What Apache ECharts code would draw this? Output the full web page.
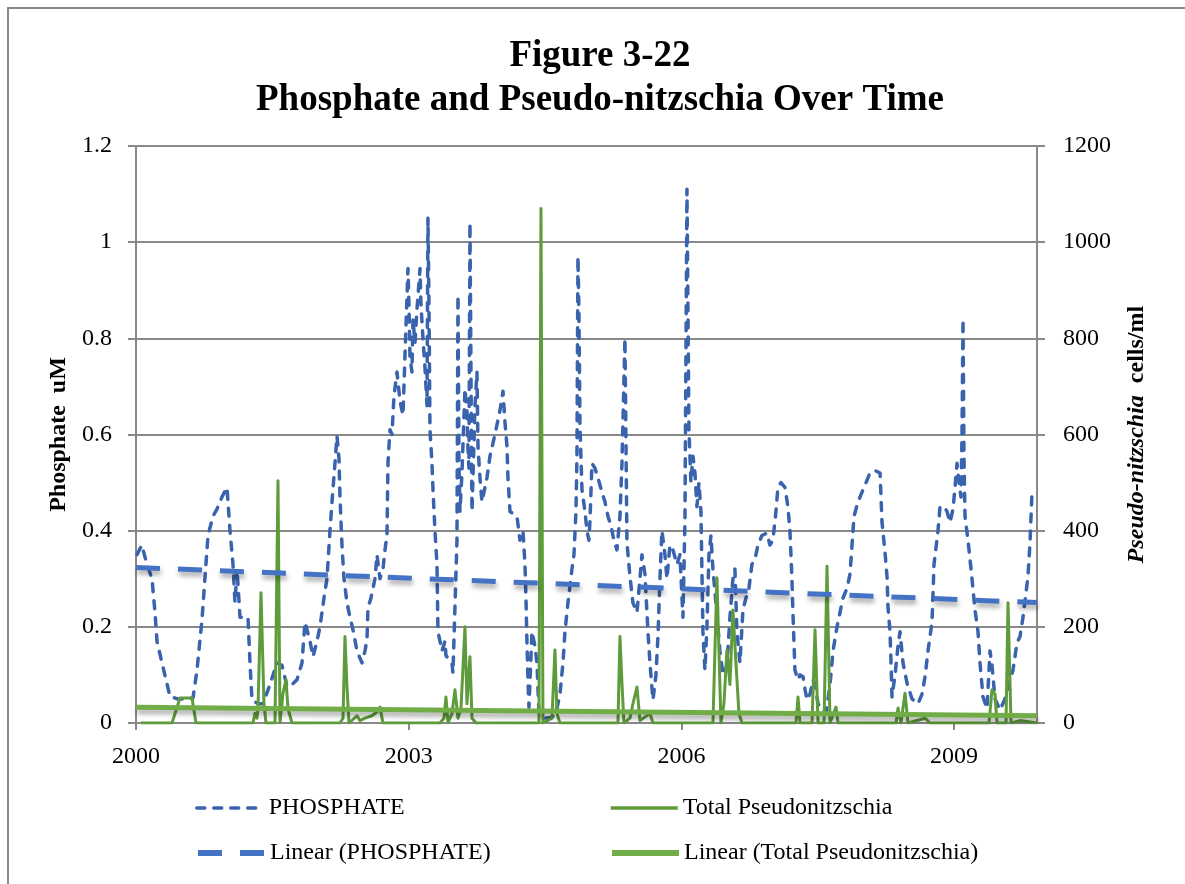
<!DOCTYPE html>
<html>
<head>
<meta charset="utf-8">
<script src="https://cdn.jsdelivr.net/npm/echarts@6/dist/echarts.min.js"></script>
<style>
  html, body { margin: 0; padding: 0; background: #fff; }
  #main { width: 1185px; height: 884px; }
</style>
</head>
<body>
<div id="main"></div>
<script>
// sample dates as decimal years
const phosYears = [
  2000.011, 2000.063, 2000.121, 2000.176, 2000.209, 2000.231, 2000.286, 2000.374, 2000.462, 2000.550,
  2000.627, 2000.671, 2000.726, 2000.792, 2000.847, 2000.891, 2000.946, 2001.001, 2001.034, 2001.067,
  2001.089, 2001.111, 2001.144, 2001.232, 2001.254, 2001.276, 2001.342, 2001.397, 2001.474, 2001.551,
  2001.606, 2001.661, 2001.716, 2001.771, 2001.826, 2001.859, 2001.914, 2001.947, 2001.991, 2002.024,
  2002.068, 2002.101, 2002.134, 2002.156, 2002.189, 2002.211, 2002.233, 2002.244, 2002.266, 2002.288,
  2002.321, 2002.354, 2002.387, 2002.431, 2002.486, 2002.519, 2002.541, 2002.552, 2002.585, 2002.607,
  2002.629, 2002.651, 2002.684, 2002.717, 2002.739, 2002.761, 2002.772, 2002.794, 2002.816, 2002.838,
  2002.871, 2002.904, 2002.937, 2002.959, 2002.992, 2003.003, 2003.014, 2003.036, 2003.047, 2003.069,
  2003.091, 2003.124, 2003.135, 2003.157, 2003.179, 2003.201, 2003.212, 2003.223, 2003.234, 2003.256,
  2003.267, 2003.289, 2003.311, 2003.322, 2003.366, 2003.399, 2003.410, 2003.476, 2003.487, 2003.531,
  2003.542, 2003.553, 2003.564, 2003.586, 2003.619, 2003.641, 2003.652, 2003.663, 2003.674, 2003.685,
  2003.696, 2003.707, 2003.729, 2003.751, 2003.762, 2003.784, 2003.806, 2003.861, 2003.894, 2003.949,
  2004.004, 2004.037, 2004.059, 2004.081, 2004.092, 2004.114, 2004.191, 2004.224, 2004.257, 2004.279,
  2004.290, 2004.301, 2004.312, 2004.323, 2004.356, 2004.389, 2004.411, 2004.433, 2004.499, 2004.576,
  2004.620, 2004.664, 2004.697, 2004.719, 2004.752, 2004.796, 2004.818, 2004.840, 2004.851, 2004.862,
  2004.873, 2004.884, 2004.906, 2004.939, 2004.961, 2004.983, 2004.994, 2005.016, 2005.049, 2005.082,
  2005.126, 2005.159, 2005.192, 2005.225, 2005.258, 2005.291, 2005.324, 2005.346, 2005.379, 2005.401,
  2005.434, 2005.467, 2005.511, 2005.544, 2005.566, 2005.599, 2005.632, 2005.654, 2005.687, 2005.720,
  2005.742, 2005.764, 2005.786, 2005.819, 2005.841, 2005.874, 2005.907, 2005.951, 2005.984, 2006.017,
  2006.039, 2006.061, 2006.083, 2006.105, 2006.127, 2006.149, 2006.171, 2006.193, 2006.215, 2006.237,
  2006.259, 2006.281, 2006.303, 2006.325, 2006.347, 2006.380, 2006.424, 2006.457, 2006.501, 2006.534,
  2006.567, 2006.589, 2006.611, 2006.644, 2006.677, 2006.710, 2006.743, 2006.776, 2006.809, 2006.842,
  2006.886, 2006.941, 2006.974, 2007.007, 2007.040, 2007.062, 2007.095, 2007.139, 2007.172, 2007.194,
  2007.216, 2007.227, 2007.249, 2007.283, 2007.305, 2007.338, 2007.360, 2007.382, 2007.415, 2007.448,
  2007.470, 2007.503, 2007.547, 2007.591, 2007.635, 2007.668, 2007.712, 2007.745, 2007.778, 2007.822,
  2007.855, 2007.877, 2007.899, 2007.943, 2007.987, 2008.031, 2008.075, 2008.130, 2008.185, 2008.196,
  2008.207, 2008.240, 2008.262, 2008.273, 2008.295, 2008.306, 2008.317, 2008.350, 2008.383, 2008.405,
  2008.438, 2008.482, 2008.537, 2008.603, 2008.647, 2008.680, 2008.713, 2008.757, 2008.779, 2008.823,
  2008.845, 2008.889, 2008.922, 2008.955, 2008.988, 2009.010, 2009.032, 2009.054, 2009.076, 2009.087,
  2009.098, 2009.109, 2009.120, 2009.153, 2009.175, 2009.197, 2009.230, 2009.263, 2009.285, 2009.318,
  2009.362, 2009.395, 2009.417, 2009.450, 2009.505, 2009.560, 2009.615, 2009.648, 2009.692, 2009.725,
  2009.758, 2009.813, 2009.835, 2009.857
]
const phosValues = [
  0.35, 0.37, 0.33, 0.30, 0.23, 0.17, 0.125, 0.055, 0.05, 0.05,
  0.052, 0.11, 0.215, 0.39, 0.43, 0.445, 0.47, 0.49, 0.40, 0.33,
  0.25, 0.32, 0.22, 0.22, 0.125, 0.048, 0.04, 0.04, 0.08, 0.125,
  0.12, 0.076, 0.08, 0.09, 0.125, 0.21, 0.17, 0.138, 0.17, 0.20,
  0.26, 0.30, 0.40, 0.46, 0.54, 0.597, 0.55, 0.47, 0.37, 0.30,
  0.25, 0.22, 0.194, 0.15, 0.125, 0.15, 0.173, 0.24, 0.26, 0.26,
  0.30, 0.35, 0.30, 0.32, 0.36, 0.39, 0.54, 0.61, 0.60, 0.68,
  0.73, 0.67, 0.64, 0.764, 0.945, 0.87, 0.76, 0.73, 0.84, 0.79,
  0.86, 0.945, 0.87, 0.80, 0.74, 0.66, 1.05, 0.87, 0.61, 0.54,
  0.486, 0.40, 0.33, 0.19, 0.15, 0.17, 0.14, 0.125, 0.104, 0.38,
  0.89, 0.54, 0.44, 0.52, 0.695, 0.647, 0.57, 0.53, 1.04, 0.73,
  0.44, 0.51, 0.66, 0.73, 0.576, 0.51, 0.46, 0.51, 0.555, 0.60,
  0.65, 0.69, 0.626, 0.576, 0.51, 0.44, 0.43, 0.38, 0.40, 0.33,
  0.26, 0.167, 0.09, 0.033, 0.19, 0.16, 0.125, 0.02, 0.01, 0.012,
  0.02, 0.06, 0.125, 0.19, 0.25, 0.32, 0.35, 0.44, 0.555, 0.97,
  0.85, 0.62, 0.486, 0.44, 0.40, 0.38, 0.42, 0.54, 0.53, 0.51,
  0.48, 0.46, 0.43, 0.41, 0.38, 0.36, 0.43, 0.54, 0.80, 0.375,
  0.305, 0.25, 0.23, 0.30, 0.35, 0.31, 0.19, 0.125, 0.048, 0.10,
  0.18, 0.30, 0.40, 0.35, 0.30, 0.37, 0.36, 0.33, 0.35, 0.22,
  0.42, 1.11, 0.61, 0.50, 0.555, 0.52, 0.45, 0.50, 0.44, 0.19,
  0.11, 0.20, 0.35, 0.39, 0.32, 0.25, 0.15, 0.10, 0.12, 0.22,
  0.30, 0.32, 0.19, 0.125, 0.235, 0.26, 0.28, 0.33, 0.34, 0.37,
  0.39, 0.395, 0.37, 0.38, 0.44, 0.49, 0.50, 0.49, 0.45, 0.40,
  0.30, 0.23, 0.11, 0.09, 0.10, 0.096, 0.07, 0.048, 0.06, 0.09,
  0.08, 0.04, 0.03, 0.02, 0.08, 0.15, 0.20, 0.23, 0.26, 0.28,
  0.31, 0.37, 0.43, 0.46, 0.48, 0.50, 0.52, 0.525, 0.52, 0.47,
  0.417, 0.355, 0.305, 0.24, 0.19, 0.125, 0.054, 0.10, 0.16, 0.19,
  0.125, 0.083, 0.05, 0.04, 0.06, 0.096, 0.15, 0.21, 0.33, 0.40,
  0.45, 0.45, 0.44, 0.417, 0.445, 0.49, 0.54, 0.50, 0.47, 0.60,
  0.84, 0.55, 0.43, 0.38, 0.34, 0.30, 0.235, 0.19, 0.125, 0.054,
  0.03, 0.15, 0.12, 0.05, 0.027, 0.05, 0.09, 0.11, 0.167, 0.18,
  0.22, 0.305, 0.375, 0.48
]

const pnYears = [
  2000.055, 2000.396, 2000.484, 2000.616, 2000.660, 2000.814, 2001.287, 2001.309, 2001.331, 2001.342,
  2001.375, 2001.408, 2001.430, 2001.529, 2001.562, 2001.584, 2001.617, 2001.650, 2001.672, 2001.716,
  2002.244, 2002.277, 2002.299, 2002.321, 2002.343, 2002.431, 2002.464, 2002.519, 2002.596, 2002.662,
  2002.684, 2002.717, 2003.344, 2003.388, 2003.410, 2003.432, 2003.476, 2003.509, 2003.542, 2003.575,
  2003.619, 2003.641, 2003.674, 2003.696, 2003.740, 2004.433, 2004.455, 2004.477, 2004.576, 2004.609,
  2004.631, 2004.664, 2005.302, 2005.324, 2005.346, 2005.368, 2005.434, 2005.467, 2005.511, 2005.544,
  2005.654, 2005.687, 2006.347, 2006.391, 2006.435, 2006.468, 2006.501, 2006.534, 2006.567, 2006.600,
  2006.633, 2006.666, 2007.260, 2007.283, 2007.305, 2007.437, 2007.470, 2007.503, 2007.569, 2007.602,
  2007.635, 2007.701, 2007.723, 2008.361, 2008.383, 2008.416, 2008.460, 2008.493, 2008.680, 2008.735,
  2009.384, 2009.417, 2009.450, 2009.472, 2009.571, 2009.593, 2009.626, 2009.725, 2009.912
]
const pnValues = [
  0, 0, 52, 52, 0, 0, 0, 20, 10, 30,
  271, 40, 0, 0, 504, 0, 62, 90, 30, 0,
  0, 10, 180, 75, 0, 15, 5, 10, 15, 25,
  33, 0, 0, 10, 54, 0, 20, 69, 10, 30,
  200, 40, 138, 10, 0, 0, 1070, 0, 10, 152,
  20, 0, 0, 180, 83, 0, 10, 40, 75, 5,
  20, 0, 0, 302, 0, 40, 152, 80, 235, 125,
  20, 0, 0, 54, 0, 0, 194, 0, 0, 326,
  0, 33, 0, 0, 31, 0, 62, 0, 10, 0,
  0, 69, 60, 0, 0, 250, 0, 5, 0
]

// linear trend lines (end points as drawn)
const trendYears = [2000.0, 2009.912]
const phosTrend = [0.3235, 0.2504]
const pnTrend = [33, 15]

const xTicks = [2000, 2003, 2006, 2009]

const serif = "'Liberation Serif', 'Times New Roman', serif"
const gray = '#898989'
const phosColor = '#3A63AD'
const pnColor = '#5E9B3A'
const phosTrendColor = '#4472C4'
const pnTrendColor = '#70AD47'
const phosDash = [8, 9]
const trendDash = [24, 18]

const pairs = (xs, ys) => xs.map((x, i) => [x, ys[i]])

const chart = echarts.init(document.getElementById('main'), null, { renderer: 'canvas' })

const legendBase = {
  orient: 'horizontal',
  itemHeight: 14,
  itemWidth: 67,
  itemStyle: { opacity: 0 },
  textStyle: { fontFamily: serif, fontSize: 24, color: '#000' },
  selectedMode: false
}

const legendItem = (name, lineStyle) => ({ name, itemStyle: { opacity: 0 }, lineStyle })

const option = {
  animation: false,
  backgroundColor: '#fff',
  title: {
    text: 'Figure 3-22\nPhosphate and Pseudo-nitzschia Over Time',
    left: 595,
    top: 29,
    textAlign: 'center',
    textStyle: {
      fontFamily: serif,
      fontWeight: 'bold',
      fontSize: 37,
      lineHeight: 44,
      color: '#000'
    }
  },
  graphic: [
    {
      type: 'rect',
      shape: { x: 8, y: 8, width: 1200, height: 900 },
      style: { fill: 'none', stroke: gray, lineWidth: 2 },
      silent: true
    }
  ],
  legend: [
    Object.assign({}, legendBase, { left: 190, top: 791,
      data: [legendItem('PHOSPHATE', { color: phosColor, width: 3.5, type: phosDash, cap: 'round' })] }),
    Object.assign({}, legendBase, { left: 604, top: 791,
      data: [legendItem('Total Pseudonitzschia', { color: pnColor, width: 3.5, type: 'solid' })] }),
    Object.assign({}, legendBase, { left: 190, top: 836,
      data: [legendItem('Linear (PHOSPHATE)', { color: phosTrendColor, width: 6, type: trendDash })] }),
    Object.assign({}, legendBase, { left: 604, top: 836,
      data: [legendItem('Linear (Total Pseudonitzschia)', { color: pnTrendColor, width: 6, type: 'solid' })] })
  ],
  grid: {
    left: 136,
    right: 148,
    top: 146,
    bottom: 161,
    containLabel: false
  },
  xAxis: {
    type: 'value',
    min: 2000,
    max: 2009.912,
    interval: 3,
    axisLine: { show: true, lineStyle: { color: gray, width: 2 } },
    axisTick: { show: true, length: 7, lineStyle: { color: gray, width: 2 } },
    splitLine: { show: false },
    axisLabel: {
      margin: 22,
      showMaxLabel: false,
      fontFamily: serif,
      fontSize: 24,
      color: '#000',
      formatter: v => (xTicks.includes(Math.round(v)) && Math.abs(v - Math.round(v)) < 1e-6 ? String(Math.round(v)) : '')
    }
  },
  yAxis: [
    {
      type: 'value',
      min: 0,
      max: 1.2,
      interval: 0.2,
      position: 'left',
      name: 'Phosphate  uM',
      nameLocation: 'middle',
      nameGap: 58,
      nameRotate: 90,
      nameTextStyle: { fontFamily: serif, fontWeight: 'bold', fontSize: 24, color: '#000' },
      axisLine: { show: true, lineStyle: { color: gray, width: 2 } },
      axisTick: { show: true, length: 8, lineStyle: { color: gray, width: 2 } },
      splitLine: { show: true, lineStyle: { color: gray, width: 2 } },
      axisLabel: {
        margin: 24,
        fontFamily: serif,
        fontSize: 24,
        color: '#000',
        formatter: v => String(Math.round(v * 10) / 10)
      }
    },
    {
      type: 'value',
      min: 0,
      max: 1200,
      interval: 200,
      position: 'right',
      name: '{i|Pseudo-nitzschia}{b|  cells/ml}',
      nameLocation: 'middle',
      nameGap: 88,
      nameRotate: 90,
      nameTextStyle: {
        rich: {
          i: { fontFamily: serif, fontWeight: 'bold', fontStyle: 'italic', fontSize: 24, color: '#000' },
          b: { fontFamily: serif, fontWeight: 'bold', fontSize: 24, color: '#000' }
        }
      },
      axisLine: { show: true, lineStyle: { color: gray, width: 2 } },
      axisTick: { show: true, length: 8, lineStyle: { color: gray, width: 2 } },
      splitLine: { show: false },
      axisLabel: {
        margin: 26,
        fontFamily: serif,
        fontSize: 24,
        color: '#000',
        formatter: v => String(v)
      }
    }
  ],
  series: [
    {
      name: 'PHOSPHATE',
      type: 'line',
      yAxisIndex: 0,
      showSymbol: false,
      symbol: 'none',
      data: pairs(phosYears, phosValues),
      lineStyle: { color: phosColor, width: 3.5, type: phosDash, cap: 'round', join: 'round' },
      itemStyle: { color: phosColor },
      z: 2
    },
    {
      name: 'Total Pseudonitzschia',
      type: 'line',
      yAxisIndex: 1,
      showSymbol: false,
      symbol: 'none',
      data: pairs(pnYears, pnValues),
      lineStyle: { color: pnColor, width: 3, join: 'round' },
      itemStyle: { color: pnColor },
      z: 3
    },
    {
      name: 'Linear (PHOSPHATE)',
      type: 'line',
      yAxisIndex: 0,
      showSymbol: false,
      symbol: 'none',
      data: pairs(trendYears, phosTrend),
      lineStyle: {
        color: phosTrendColor, width: 5, type: trendDash,
        shadowColor: 'rgba(0,0,0,0.35)', shadowBlur: 5, shadowOffsetX: 1, shadowOffsetY: 4
      },
      itemStyle: { color: phosTrendColor },
      z: 4
    },
    {
      name: 'Linear (Total Pseudonitzschia)',
      type: 'line',
      yAxisIndex: 1,
      showSymbol: false,
      symbol: 'none',
      data: pairs(trendYears, pnTrend),
      lineStyle: {
        color: pnTrendColor, width: 5,
        shadowColor: 'rgba(0,0,0,0.35)', shadowBlur: 5, shadowOffsetX: 1, shadowOffsetY: 4
      },
      itemStyle: { color: pnTrendColor },
      z: 4
    }
  ]
}

chart.setOption(option)
</script>
</body>
</html>
